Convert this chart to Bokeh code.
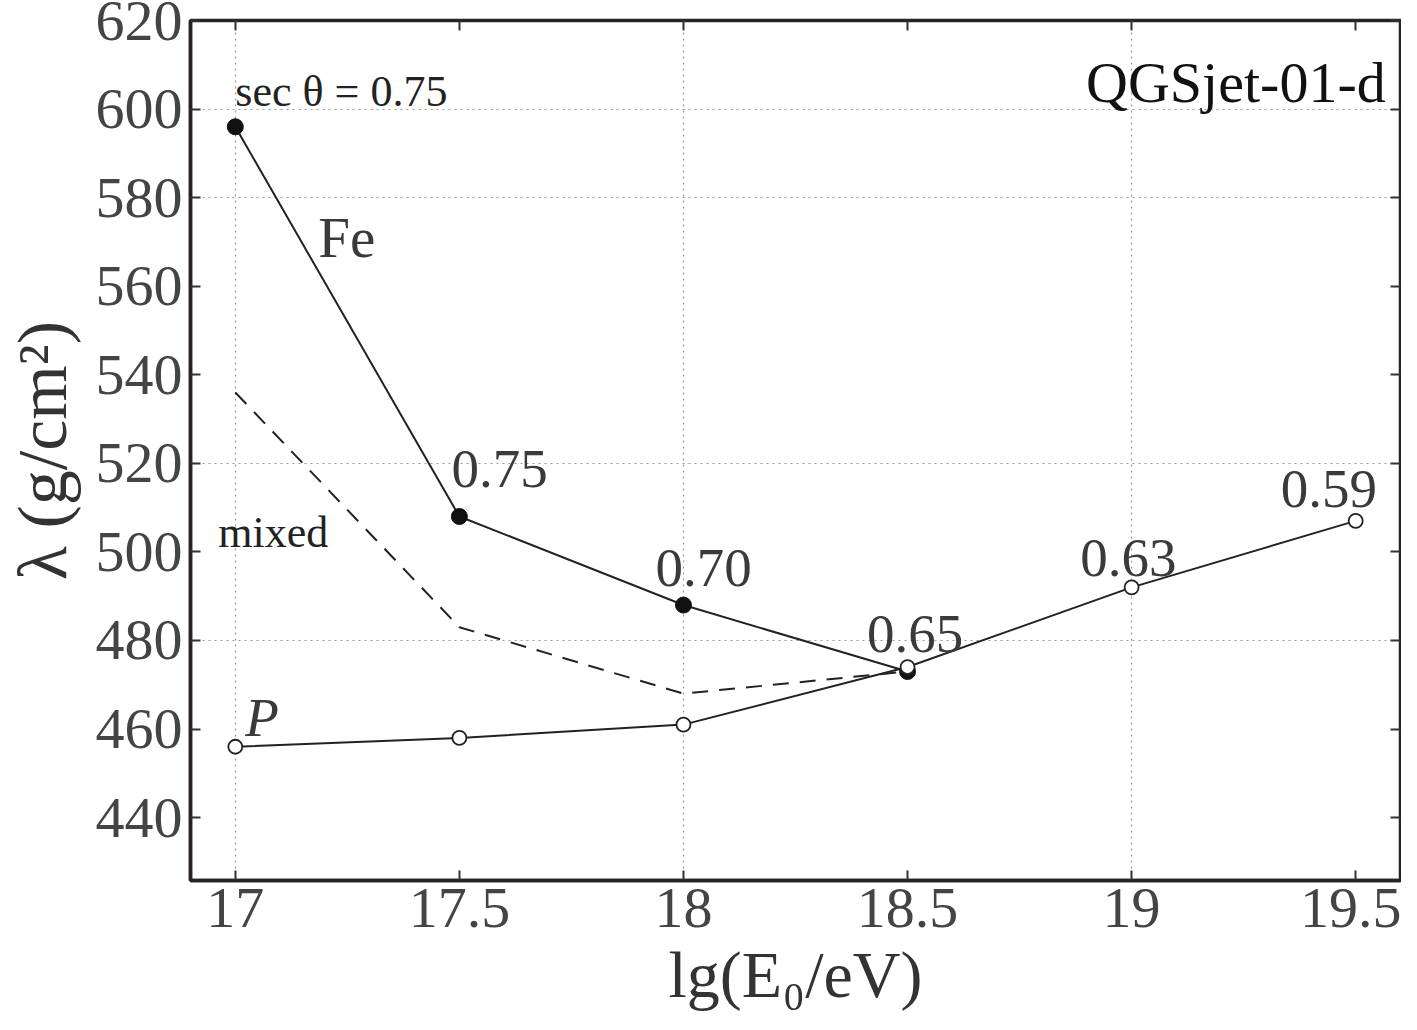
from bokeh.plotting import figure
from bokeh.models import (Range1d, FixedTicker, LinearAxis, Label)
from bokeh.embed import file_html
from bokeh.resources import INLINE

# ---- data ----
energy = [17.0, 17.5, 18.0, 18.5, 19.0, 19.5]
fe_energy = [17.0, 17.5, 18.0, 18.5]
fe_lambda = [596, 508, 488, 473]
p_lambda = [456, 458, 461, 474, 492, 507]
mixed_energy = [17.0, 17.5, 18.0, 18.5]
mixed_lambda = [536, 483, 468, 473]
sec_labels = ["0.75", "0.70", "0.65", "0.63", "0.59"]
sec_label_x = [17.59, 18.045, 18.517, 18.993, 19.44]
sec_label_y = [518.7, 496.4, 481.5, 498.6, 514.2]
x_ticks = [17, 17.5, 18, 18.5, 19, 19.5]
y_ticks = [440, 460, 480, 500, 520, 540, 560, 580, 600, 620]
x_grid = [17, 18, 19]
y_grid = [480, 520, 580, 600]

FONT = "Liberation Serif"
TICK_COL = "#444444"
TXT_COL = "#3a3a3a"
AX_COL = "#333333"

p = figure(width=1401, height=1014, output_backend="svg", toolbar_location=None,
           x_range=Range1d(16.9, 19.6), y_range=Range1d(425.8, 620),
           min_border_left=190, min_border_right=1, min_border_top=20, min_border_bottom=134)
p.background_fill_color = "white"
p.border_fill_color = "white"
p.outline_line_color = "#2a2222"
p.outline_line_width = 3.5

# grids
p.xgrid.ticker = FixedTicker(ticks=x_grid)
p.ygrid.ticker = FixedTicker(ticks=y_grid)
for g in (p.xgrid, p.ygrid):
    g.grid_line_color = "#9a9a9a"
    g.grid_line_dash = "2 4"
    g.grid_line_width = 1.2

# axes
for ax, ticks in ((p.xaxis[0], x_ticks), (p.yaxis[0], y_ticks)):
    ax.ticker = FixedTicker(ticks=ticks)
    ax.major_tick_in = 10
    ax.major_tick_out = 0
    ax.minor_tick_line_color = None
    ax.major_tick_line_color = "#333333"
    ax.major_tick_line_width = 2
    ax.axis_line_color = "#2a2222"
    ax.axis_line_width = 3.5
    ax.major_label_text_font = FONT
    ax.major_label_text_font_size = "58px"
    ax.major_label_text_color = TICK_COL
    ax.axis_label_text_font = FONT
    ax.axis_label_text_font_style = "normal"
    ax.axis_label_text_color = AX_COL

p.xaxis[0].major_label_overrides = {17: "17", 18: "18", 19: "19"}
p.xaxis[0].axis_label = "lg(E₀/eV)"
p.xaxis[0].axis_label_text_font_size = "66px"
p.xaxis[0].major_label_standoff = 8
p.xaxis[0].axis_label_standoff = 8
p.yaxis[0].axis_label = "λ (g/cm²)"
p.yaxis[0].axis_label_text_font_size = "70px"
p.yaxis[0].major_label_standoff = 8
p.yaxis[0].axis_label_standoff = 12

for loc, ticks in (("above", x_ticks), ("right", y_ticks)):
    ax = LinearAxis(ticker=FixedTicker(ticks=ticks))
    ax.major_tick_in = 10
    ax.major_tick_out = 0
    ax.minor_tick_line_color = None
    ax.major_tick_line_color = "#333333"
    ax.major_tick_line_width = 2
    ax.axis_line_color = None
    ax.major_label_overrides = {t: "" for t in ticks}
    ax.major_label_standoff = 0
    p.add_layout(ax, loc)

# lines
p.line(mixed_energy, mixed_lambda, line_color="#222222", line_width=2, line_dash="16 11")
p.line(fe_energy, fe_lambda, line_color="#222222", line_width=2)
p.line(energy, p_lambda, line_color="#222222", line_width=2)
p.scatter(fe_energy, fe_lambda, size=16, marker="circle", fill_color="#111111", line_color="#111111")
p.scatter(energy, p_lambda, size=14, marker="circle", fill_color="white", line_color="#222222", line_width=1.8)

# labels
for t, lx, ly in zip(sec_labels, sec_label_x, sec_label_y):
    p.add_layout(Label(x=lx, y=ly, text=t, text_font=FONT, text_font_size="55px",
                       text_color=TXT_COL, text_align="center", text_baseline="middle"))

p.add_layout(Label(x=17.0, y=604, text="sec θ = 0.75", text_font=FONT, text_font_size="44px",
                   text_color="#222222", text_align="left", text_baseline="middle"))
p.add_layout(Label(x=19.567, y=605.9, text="QGSjet-01-d", text_font=FONT, text_font_size="58px",
                   text_color="#111111", text_align="right", text_baseline="middle"))
p.add_layout(Label(x=17.185, y=570.9, text="Fe", text_font=FONT, text_font_size="57px",
                   text_color=TXT_COL, text_align="left", text_baseline="middle"))
p.add_layout(Label(x=16.962, y=504.3, text="mixed", text_font=FONT, text_font_size="44px",
                   text_color="#222222", text_align="left", text_baseline="middle"))
p.add_layout(Label(x=17.022, y=462.5, text="P", text_font=FONT, text_font_size="55px",
                   text_font_style="italic", text_color=TXT_COL, text_align="left",
                   text_baseline="middle"))

open("out.html", "w").write(file_html(p, INLINE))
